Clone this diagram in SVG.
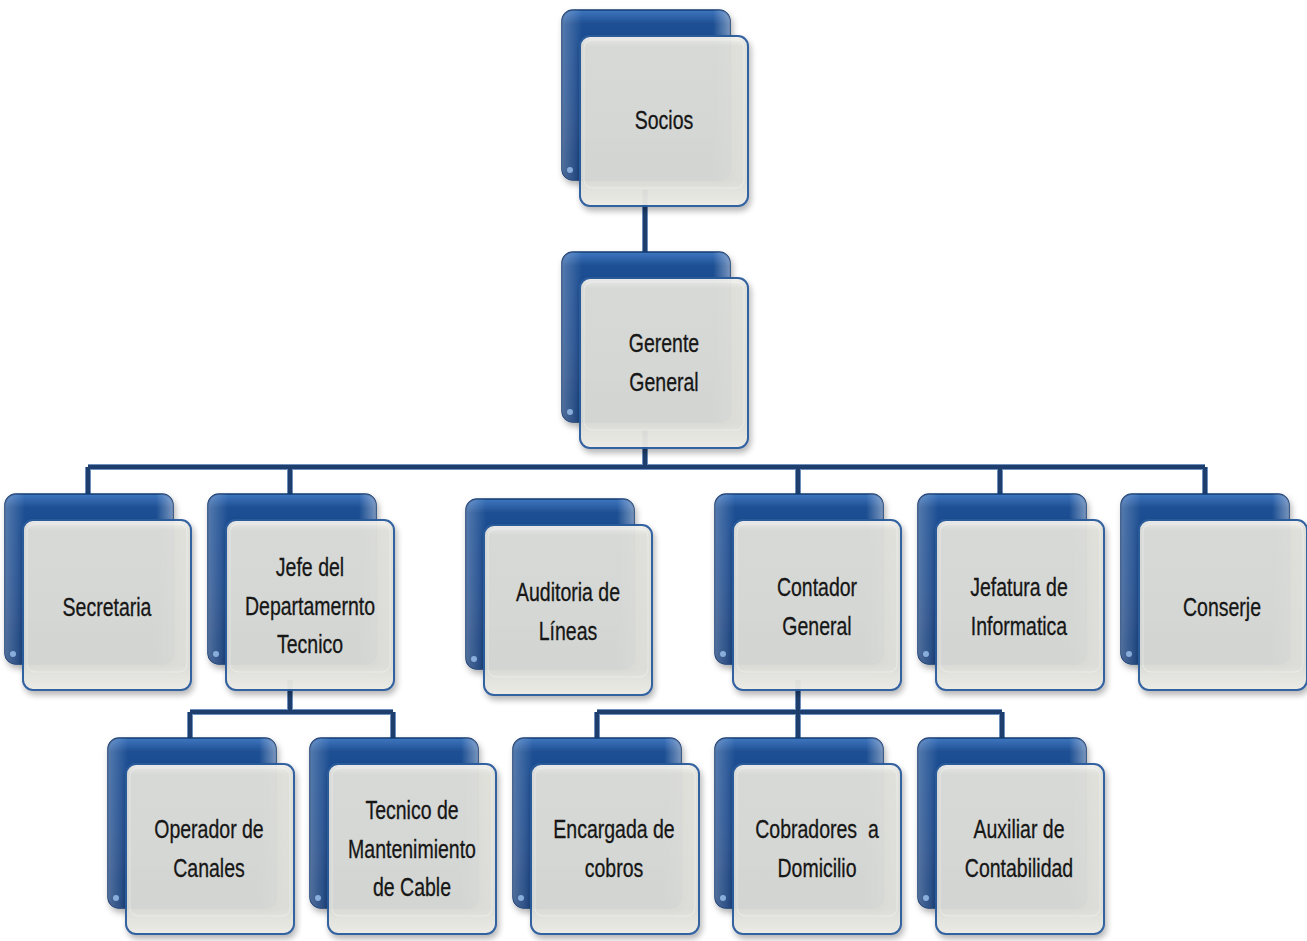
<svg xmlns="http://www.w3.org/2000/svg" width="1307" height="941" viewBox="0 0 1307 941">
<defs>
<linearGradient id="gBack" x1="0" y1="0" x2="0" y2="1">
<stop offset="0" stop-color="#3f77c0"/>
<stop offset="0.08" stop-color="#1f4f93"/>
<stop offset="0.5" stop-color="#1d4a8c"/>
<stop offset="1" stop-color="#173d78"/>
</linearGradient>
<linearGradient id="gBackSide" x1="0" y1="0" x2="1" y2="0">
<stop offset="0" stop-color="#ffffff" stop-opacity="0.25"/>
<stop offset="0.12" stop-color="#ffffff" stop-opacity="0"/>
<stop offset="0.9" stop-color="#ffffff" stop-opacity="0"/>
<stop offset="1" stop-color="#ffffff" stop-opacity="0.4"/>
</linearGradient>
<linearGradient id="gFront" x1="0" y1="0" x2="0" y2="1">
<stop offset="0" stop-color="#f3f2ee"/>
<stop offset="0.06" stop-color="#dfdfda"/>
<stop offset="0.85" stop-color="#dbdcd7"/>
<stop offset="1" stop-color="#ecebe5"/>
</linearGradient>
<filter id="sh" x="-10%" y="-10%" width="125%" height="130%">
<feDropShadow dx="2" dy="4" stdDeviation="3" flood-color="#000" flood-opacity="0.3"/>
</filter>
<g id="box">
<rect x="-18" y="-26" width="168" height="170" rx="11" fill="url(#gBack)" stroke="#163a72" stroke-width="1.5" filter="url(#sh)"/>
<rect x="-18" y="-26" width="168" height="170" rx="11" fill="url(#gBackSide)"/>
<circle cx="-10" cy="134" r="3" fill="#9cc2ee" opacity="0.8"/>
<rect x="0" y="0" width="168" height="170" rx="10" fill="url(#gFront)" stroke="#2c5b9c" stroke-width="2" filter="url(#sh)" opacity="0.96"/>
<rect x="4" y="4" width="160" height="148" rx="8" fill="none" stroke="#ffffff" stroke-opacity="0.35" stroke-width="1"/>
</g>
</defs>
<style>
.t{font-family:"Liberation Sans",Arial,sans-serif;font-size:25px;fill:#161616;stroke:#161616;stroke-width:0.3;text-anchor:middle}
.c1{fill:none;stroke:#6f90bd;stroke-width:6}
.c2{fill:none;stroke:#1e3f6e;stroke-width:4}
</style>
<rect width="1307" height="941" fill="#ffffff"/>
<g id="connectors">
<g class="c1">
<path d="M645 190V260"/>
<path d="M645 430V467M88 467H1205M88 467V496M290 467V496M798 467V496M1000 467V496M1205 467V496"/>
<path d="M290 680V712M190 712H393M190 712V740M393 712V740"/>
<path d="M798 680V712M597 712H1002M597 712V740M798 712V740M1002 712V740"/>
</g>
<g class="c2">
<path d="M645 190V260"/>
<path d="M645 430V467M88 467H1205M88 467V496M290 467V496M798 467V496M1000 467V496M1205 467V496"/>
<path d="M290 680V712M190 712H393M190 712V740M393 712V740"/>
<path d="M798 680V712M597 712H1002M597 712V740M798 712V740M1002 712V740"/>
</g>
</g>
<g id="socios"><use href="#box" x="580" y="36"/>
<text class="t" transform="translate(664,129) scale(0.78,1)">Socios</text></g>
<g id="gerente"><use href="#box" x="580" y="278"/>
<text class="t" transform="translate(664,352) scale(0.78,1)">Gerente</text>
<text class="t" transform="translate(664,391) scale(0.78,1)">General</text></g>
<g id="secretaria"><use href="#box" x="23" y="520"/>
<text class="t" transform="translate(107,616) scale(0.78,1)">Secretaria</text></g>
<g id="jefe"><use href="#box" x="226" y="520"/>
<text class="t" transform="translate(310,576) scale(0.78,1)">Jefe del</text>
<text class="t" transform="translate(310,615) scale(0.78,1)">Departamernto</text>
<text class="t" transform="translate(310,653) scale(0.78,1)">Tecnico</text></g>
<g id="auditoria"><use href="#box" x="484" y="525"/>
<text class="t" transform="translate(568,601) scale(0.78,1)">Auditoria de</text>
<text class="t" transform="translate(568,640) scale(0.78,1)">Líneas</text></g>
<g id="contador"><use href="#box" x="733" y="520"/>
<text class="t" transform="translate(817,596) scale(0.78,1)">Contador</text>
<text class="t" transform="translate(817,635) scale(0.78,1)">General</text></g>
<g id="jefatura"><use href="#box" x="936" y="520"/>
<text class="t" transform="translate(1019,596) scale(0.78,1)">Jefatura de</text>
<text class="t" transform="translate(1019,635) scale(0.78,1)">Informatica</text></g>
<g id="conserje"><use href="#box" x="1139" y="520"/>
<text class="t" transform="translate(1222,616) scale(0.78,1)">Conserje</text></g>
<g id="operador"><use href="#box" x="126" y="764"/>
<text class="t" transform="translate(209,838) scale(0.78,1)">Operador de</text>
<text class="t" transform="translate(209,877) scale(0.78,1)">Canales</text></g>
<g id="tecnico"><use href="#box" x="328" y="764"/>
<text class="t" transform="translate(412,819) scale(0.78,1)">Tecnico de</text>
<text class="t" transform="translate(412,858) scale(0.78,1)">Mantenimiento</text>
<text class="t" transform="translate(412,896) scale(0.78,1)">de Cable</text></g>
<g id="encargada"><use href="#box" x="531" y="764"/>
<text class="t" transform="translate(614,838) scale(0.78,1)">Encargada de</text>
<text class="t" transform="translate(614,877) scale(0.78,1)">cobros</text></g>
<g id="cobradores"><use href="#box" x="733" y="764"/>
<text class="t" transform="translate(817,838) scale(0.78,1)">Cobradores&#160; a</text>
<text class="t" transform="translate(817,877) scale(0.78,1)">Domicilio</text></g>
<g id="auxiliar"><use href="#box" x="936" y="764"/>
<text class="t" transform="translate(1019,838) scale(0.78,1)">Auxiliar de</text>
<text class="t" transform="translate(1019,877) scale(0.78,1)">Contabilidad</text></g>
</svg>
